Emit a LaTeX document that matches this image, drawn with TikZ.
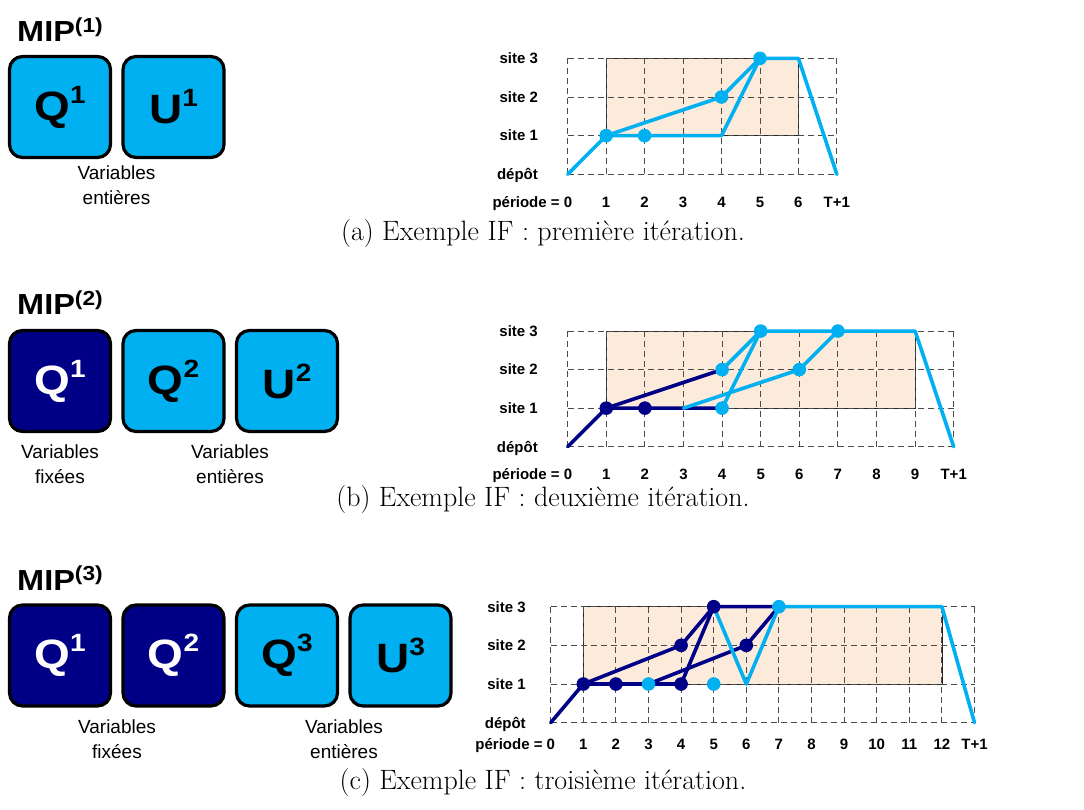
\documentclass[tikz,border=0pt]{standalone}
\usepackage{fontspec}
\newfontfamily\arialfont{Liberation Sans}
\newfontfamily\arialwide[FakeStretch=1.12]{Liberation Sans}
\definecolor{varblue}{RGB}{0,176,240}
\definecolor{fixnavy}{RGB}{0,0,135}
\definecolor{horizon}{RGB}{252,234,218}
\definecolor{gridgray}{RGB}{75,75,75}
\newcommand{\bsup}[1]{\raisebox{17pt}{\fontsize{25}{25}\selectfont#1}}

\begin{document}
\begin{tikzpicture}[
  x=1pt, y=-1pt,
  varbox/.style={
    draw, line width=3.2pt, rounded corners=13pt, fill=varblue,
    minimum width=101pt, minimum height=101pt, inner sep=0pt,
    font=\arialwide\bfseries\fontsize{41}{41}\selectfont
  },
  fixbox/.style={varbox, fill=fixnavy, text=white},
  miplbl/.style={anchor=base west, inner sep=0pt,
    font=\arialwide\bfseries\fontsize{29}{30}\selectfont},
  grplbl/.style={align=center, inner sep=0pt,
    font=\arialfont\fontsize{19}{25}\selectfont},
  axlbl/.style={inner sep=0pt, text height=10.7pt, text depth=0pt,
    font=\arialfont\bfseries\fontsize{15}{16}\selectfont},
  gridln/.style={gridgray, line width=0.9pt, dash pattern=on 6pt off 4pt},
  horbox/.style={fill=horizon, draw=black!85, line width=0.7pt},
  route/.style={varblue, line width=3.6pt, line join=round, line cap=round},
  fixroute/.style={route, fixnavy},
  capt/.style={font=\fontsize{28}{32}\selectfont},
]
\useasboundingbox (0,0) rectangle (1084,810);

%% --- (a) first iteration -------------------------------------------
\node[miplbl] (mip1) at (17,42) {MIP\textsuperscript{(1)}};
\node[varbox] (q1a) at (60,107)    {Q\bsup{1}};
\node[varbox] (u1a) at (173.5,107) {U\bsup{1}};
\node[grplbl] (int1) at (116.5,185.5) {Variables\\entières};

\begin{scope}[xshift=567.7pt, yshift=-174.3pt, x=38.45pt, y=38.65pt]
  \draw[horbox] (1,1) rectangle (6,3);
  \foreach \t in {0,...,7} \draw[gridln] (\t,0) -- (\t,3);
  \foreach \s in {0,...,3} \draw[gridln] (0,\s) -- (7,\s);
  \foreach \s/\name in {0/dépôt, 1/site 1, 2/site 2, 3/site 3}
    \node[axlbl, anchor=east] (a-s\s) at (-0.77,\s) {\name};
  \node[axlbl, anchor=east] (a-p0) at (0.12,-0.71) {période = 0};
  \foreach \t in {1,...,6} \node[axlbl] (a-p\t) at (\t,-0.71) {\t};
  \node[axlbl] (a-pT) at (7,-0.71) {T+1};
  % routes
  \draw[route] (0,0) -- (1,1) -- (4,1) -- (5,3) -- (6,3) -- (7,0);
  \draw[route] (1,1) -- (4,2) -- (5,3);
  \foreach \p in {(1,1),(2,1),(4,2),(5,3)}
    \fill[varblue] \p circle[radius=6.8pt];
\end{scope}

\node[capt] (cap1) at (543,234) {(a) Exemple IF : première itération.};

%% --- (b) second iteration ------------------------------------------
\node[miplbl] (mip2) at (17,315) {MIP\textsuperscript{(2)}};
\node[fixbox] (q1b) at (60,381)    {Q\bsup{1}};
\node[varbox] (q2b) at (173.5,381) {Q\bsup{2}};
\node[varbox] (u2b) at (287,381)   {U\bsup{2}};
\node[grplbl] (fix2) at (60,464)  {Variables\\fixées};
\node[grplbl] (int2) at (230,464) {Variables\\entières};

\begin{scope}[xshift=567.7pt, yshift=-446.7pt, x=38.6pt, y=38.55pt]
  \draw[horbox] (1,1) rectangle (9,3);
  \foreach \t in {0,...,10} \draw[gridln] (\t,0) -- (\t,3);
  \foreach \s in {0,...,3} \draw[gridln] (0,\s) -- (10,\s);
  \foreach \s/\name in {0/dépôt, 1/site 1, 2/site 2, 3/site 3}
    \node[axlbl, anchor=east] (b-s\s) at (-0.77,\s) {\name};
  \node[axlbl, anchor=east] (b-p0) at (0.12,-0.71) {période = 0};
  \foreach \t in {1,...,9} \node[axlbl] (b-p\t) at (\t,-0.71) {\t};
  \node[axlbl] (b-pT) at (10,-0.71) {T+1};
  % fixed part, then new routes
  \draw[fixroute] (0,0) -- (1,1) -- (4,1);
  \draw[fixroute] (1,1) -- (4,2);
  \draw[route] (4,2) -- (5,3) -- (9,3) -- (10,0);
  \draw[route] (4,1) -- (5,3);
  \draw[route] (3,1) -- (6,2) -- (7,3);
  \foreach \p in {(1,1),(2,1)}
    \fill[fixnavy] \p circle[radius=6.8pt];
  \foreach \p in {(4,2),(4,1),(5,3),(6,2),(7,3)}
    \fill[varblue] \p circle[radius=6.8pt];
\end{scope}

\node[capt] (cap2) at (543,500) {(b) Exemple IF : deuxième itération.};

%% --- (c) third iteration -------------------------------------------
\node[miplbl] (mip3) at (17,590) {MIP\textsuperscript{(3)}};
\node[fixbox] (q1c) at (60,655.5)    {Q\bsup{1}};
\node[fixbox] (q2c) at (173.5,655.5) {Q\bsup{2}};
\node[varbox] (q3c) at (287,655.5)   {Q\bsup{3}};
\node[varbox] (u3c) at (400.5,655.5) {U\bsup{3}};
\node[grplbl] (fix3) at (117,739) {Variables\\fixées};
\node[grplbl] (int3) at (344,739) {Variables\\entières};

\begin{scope}[xshift=550.7pt, yshift=-722.7pt, x=32.6pt, y=38.67pt]
  \draw[horbox] (1,1) rectangle (12,3);
  \foreach \t in {0,...,13} \draw[gridln] (\t,0) -- (\t,3);
  \foreach \s in {0,...,3} \draw[gridln] (0,\s) -- (13,\s);
  \foreach \s/\name in {0/dépôt, 1/site 1, 2/site 2, 3/site 3}
    \node[axlbl, anchor=east] (c-s\s) at (-0.76,\s) {\name};
  \node[axlbl, anchor=east] (c-p0) at (0.14,-0.56) {période = 0};
  \foreach \t in {1,...,12} \node[axlbl] (c-p\t) at (\t,-0.56) {\t};
  \node[axlbl] (c-pT) at (13,-0.56) {T+1};
  % fixed part, then new routes
  \draw[fixroute] (0,0) -- (1,1) -- (4,1) -- (5,3) -- (7,3);
  \draw[fixroute] (1,1) -- (4,2) -- (5,3);
  \draw[fixroute] (3,1) -- (6,2) -- (7,3);
  \draw[route] (5,3) -- (6,1) -- (7,3) -- (12,3) -- (13,0);
  \foreach \p in {(1,1),(2,1),(4,1),(4,2),(5,3),(6,2)}
    \fill[fixnavy] \p circle[radius=6.8pt];
  \foreach \p in {(3,1),(5,1),(7,3)}
    \fill[varblue] \p circle[radius=6.8pt];
\end{scope}

\node[capt] (cap3) at (543,783) {(c) Exemple IF : troisième itération.};

\end{tikzpicture}
\end{document}
